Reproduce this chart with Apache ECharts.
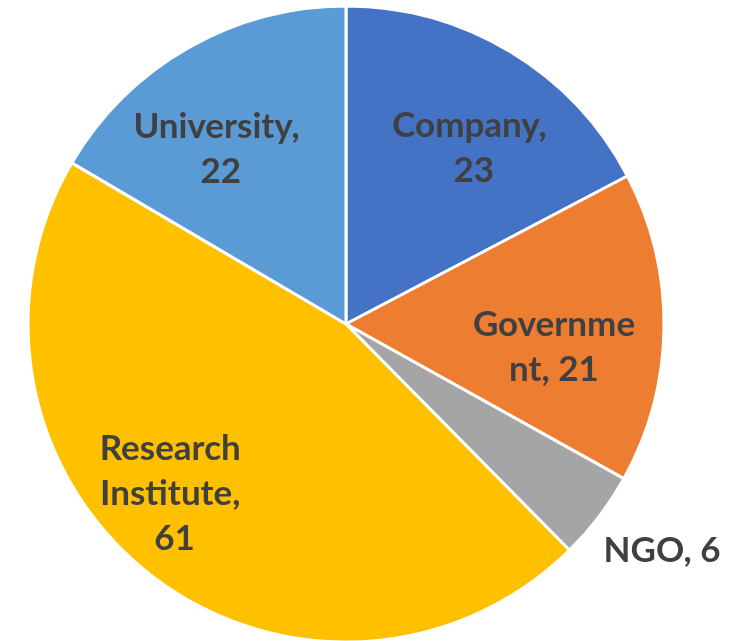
<!DOCTYPE html>
<html>
<head>
<meta charset="utf-8">
<script src="https://cdn.jsdelivr.net/npm/echarts@6/dist/echarts.min.js"></script>
<style>
  html, body { margin: 0; padding: 0; background: #fff; }
  #chart { width: 739px; height: 641px; }
</style>
</head>
<body>
<div id="chart"></div>
<script>
// data
const categories = ['Company', 'Government', 'NGO', 'Research Institute', 'University']
const counts = [23, 21, 6, 61, 22]

// styling
const sliceColors = ['#4472C4', '#ED7D31', '#A5A5A5', '#FFC000', '#5B9BD5']
const labelWrap = ['break', 'breakAll', 'break', 'break', 'break']
// shift from the default "inside" spot to where Excel put each label
const labelNudge = [[44, -37], [46, 21], [187, 129], [-72, 42], [-49, -34]]

const chart = echarts.init(document.getElementById('chart'))

chart.setOption({
  backgroundColor: '#fff',
  animation: false,
  series: [
    {
      type: 'pie',
      center: [346, 324],
      radius: [0, 318],
      startAngle: 90,
      clockwise: true,
      avoidLabelOverlap: false,
      itemStyle: { borderColor: '#fff', borderWidth: 3 },
      label: {
        show: true,
        position: 'inside',
        formatter: '{b}, {c}',
        fontFamily: 'Lato',
        fontWeight: 'bold',
        fontSize: 35,
        lineHeight: 45,
        color: '#404040',
        align: 'center',
        width: 172,
        overflow: 'break',
      },
      labelLine: { show: false },
      labelLayout: (p) => ({ dx: labelNudge[p.dataIndex][0], dy: labelNudge[p.dataIndex][1] }),
      data: categories.map((name, i) => ({
        name,
        value: counts[i],
        itemStyle: { color: sliceColors[i] },
        label: { overflow: labelWrap[i], width: i === 2 ? 200 : 172 },
      })),
    },
  ],
})
</script>
</body>
</html>
